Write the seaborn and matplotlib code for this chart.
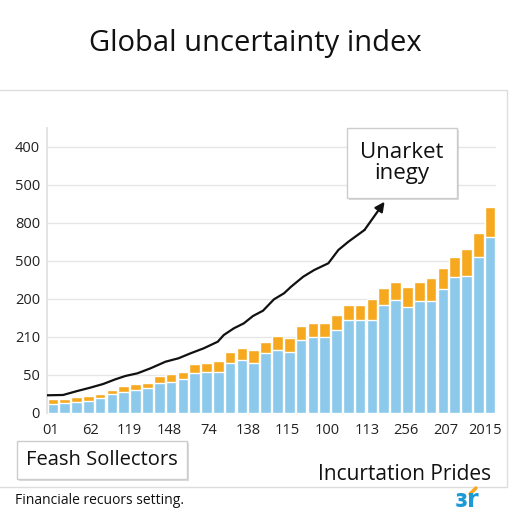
import numpy as np
import pandas as pd
import matplotlib
matplotlib.use("Agg")
import matplotlib.pyplot as plt
import matplotlib.patheffects as pe
from matplotlib.patches import Rectangle
from matplotlib.lines import Line2D
import seaborn as sns

# data (bar index 0..37)
blue_vals = [11.8, 12.8, 14.1, 15.8, 19.3, 25.0, 28.0, 30.3, 32.5, 39.9,
             40.4, 44.3, 53.0, 53.9, 53.9, 66.2, 69.3, 66.2, 78.6, 82.9,
             80.7, 96.1, 100.4, 99.6, 109.2, 122.8, 122.4, 122.4, 142.1, 148.7,
             139.1, 147.8, 147.8, 162.8, 178.6, 180.3, 205.7, 232.0]
total_vals = [18.0, 18.8, 20.7, 22.8, 25.0, 30.3, 35.5, 37.8, 39.1, 48.7,
              51.3, 54.3, 64.5, 66.2, 68.8, 79.9, 85.5, 83.3, 93.8, 101.3,
              98.3, 114.9, 118.8, 118.0, 128.6, 142.1, 142.1, 150.4, 164.1, 172.4,
              165.4, 172.8, 177.2, 190.4, 205.7, 216.2, 237.2, 271.4]
line_x = [-0.5, 0.86, 2.05, 3.15, 4.26, 5.28, 6.13, 7.15, 8.26, 9.53,
          10.63, 11.66, 12.76, 13.95, 14.46, 15.31, 16.16, 16.93, 17.78, 18.71,
          19.56, 20.16, 21.18, 22.12, 23.31, 24.16, 25.01, 26.37]
line_y = [23.3, 23.7, 28.9, 33.3, 38.2, 44.3, 48.7, 52.2, 58.8, 67.5,
          72.0, 78.6, 85.1, 93.8, 102.6, 111.4, 118.0, 127.6, 134.6, 149.6,
          157.5, 166.2, 179.3, 188.2, 197.0, 214.5, 225.4, 240.8]
arrow_tip = (28.07, 278.0)

ytick_labels = ["0", "50", "210", "200", "500", "800", "500", "400"]
xtick_labels = ["01", "62", "119", "148", "74", "138", "115", "100", "113", "256", "207", "2015"]

df = pd.DataFrame({"period": range(len(blue_vals)), "base": blue_vals, "total": total_vals})

sns.set_theme(style="white")
plt.rcParams["font.family"] = ["Open Sans", "DejaVu Sans"]

BLUE = "#8cc9ea"
ORANGE = "#f6a91e"

fig = plt.figure(figsize=(5.12, 5.12), dpi=100)
ax = fig.add_axes([47/512, 1-413/512, 449/512, 285/512])

sns.barplot(data=df, x="period", y="total", color=ORANGE, saturation=1, width=0.9, ax=ax)
sns.barplot(data=df, x="period", y="base", color=BLUE, saturation=1, width=0.9, ax=ax)

ax.plot(line_x, line_y, color="#111111", lw=1.6, zorder=5, solid_capstyle="round")
ax.annotate("", xy=arrow_tip, xytext=(line_x[-1], line_y[-1]),
            arrowprops=dict(arrowstyle="-|>", color="#111111", lw=1.6, mutation_scale=14,
                            shrinkA=0, shrinkB=0),
            zorder=5)

ax.set_xlim(-0.5, 37.5)
ax.set_ylim(0, 375)
ax.set_yticks(np.arange(0, 400, 50))
ax.set_yticklabels(ytick_labels, fontsize=10.5, color="#222222")
ax.set_xticks(np.linspace(-0.2, 36.6, len(xtick_labels)))
ax.set_xticklabels(xtick_labels, fontsize=10.5, color="#222222")
ax.tick_params(axis="x", length=0, pad=7)
ax.tick_params(axis="y", length=0, pad=5)
ax.yaxis.grid(True, color="#e6e6e6", lw=1)
ax.set_axisbelow(True)
ax.set_xlabel("")
ax.set_ylabel("")
for s in ["top", "right", "bottom"]:
    ax.spines[s].set_visible(False)
ax.spines["left"].set_color("#e0e0e0")

# card outline
fig.patches.append(Rectangle((-0.01, 1-487/512), 507/512 + 0.01, (487-90)/512,
                             transform=fig.transFigure, fill=False,
                             edgecolor="#dddddd", lw=1))

fig.text(0.499, 1-43/512, "Global uncertainty index", ha="center", va="center",
         fontsize=21, color="#111111")

shadow = [pe.withSimplePatchShadow(offset=(1.5, -1.5), shadow_rgbFace="#999999", alpha=0.35)]

t1 = fig.text(402/512, 1-163/512, "Unarket\ninegy", ha="center", va="center",
              fontsize=16, color="#111111", linespacing=1.05,
              bbox=dict(boxstyle="square,pad=0.6", facecolor="white", edgecolor="#cccccc"))
t1.get_bbox_patch().set_path_effects(shadow)

t2 = fig.text(102/512, 1-460/512, "Feash Sollectors", ha="center", va="center",
              fontsize=14.5, color="#111111",
              bbox=dict(boxstyle="square,pad=0.45", facecolor="white", edgecolor="#cccccc"))
t2.get_bbox_patch().set_path_effects(shadow)

fig.text(491/512, 1-474/512, "Incurtation Prides", ha="right", va="center",
         fontsize=15, color="#111111")

fig.text(15/512, 1-500/512, "Financiale recuors setting.", ha="left", va="center",
         fontsize=10, color="#111111")

# small logo
fig.text(467/512, 1-500/512, "ɜr", ha="center", va="center", fontsize=17,
         fontweight="bold", color="#1b9ad6", family="DejaVu Sans")
fig.lines.append(Line2D([470/512, 476/512], [1-494/512, 1-488/512],
                        transform=fig.transFigure, color=ORANGE, lw=2.5,
                        solid_capstyle="round"))

fig.savefig("out.png", dpi=100)
